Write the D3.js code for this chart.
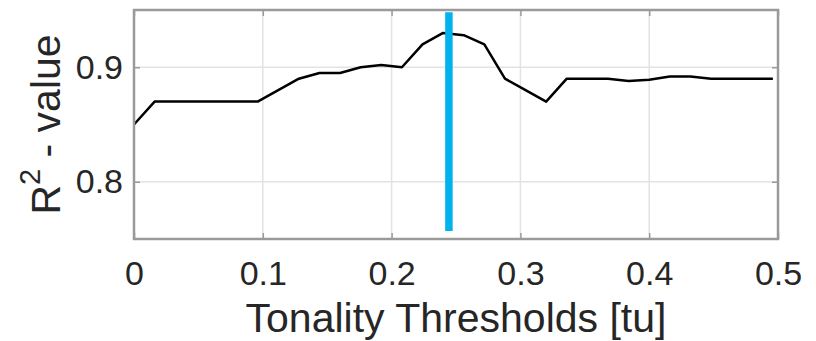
<!DOCTYPE html>
<html>
<head>
<meta charset="utf-8">
<script src="https://cdn.jsdelivr.net/npm/d3@7"></script>
<style>
  body { margin: 0; background: #fff; }
  svg { display: block; font-family: "Liberation Sans", Arial, Helvetica, sans-serif; }
  .tick text { fill: #262626; }
</style>
</head>
<body>
<svg width="816" height="341"></svg>
<script>
// thresholds (step 0.016) and r-squared
var thresholds = [0, 0.016, 0.032, 0.048, 0.064, 0.08, 0.096, 0.112, 0.128, 0.144,
  0.16, 0.176, 0.192, 0.208, 0.224, 0.24, 0.256, 0.272, 0.288, 0.304,
  0.32, 0.336, 0.352, 0.368, 0.384, 0.4, 0.416, 0.432, 0.448, 0.464,
  0.48, 0.496];
var r2 = [0.85, 0.87, 0.87, 0.87, 0.87, 0.87, 0.87, 0.88, 0.89, 0.895,
  0.895, 0.9, 0.902, 0.9, 0.92, 0.93, 0.928, 0.92, 0.89, 0.88,
  0.87, 0.89, 0.89, 0.89, 0.888, 0.889, 0.892, 0.892, 0.89, 0.89,
  0.89, 0.89];

// chosen threshold marker
var chosenX = [0.2445, 0.2445];
var chosenY = [0.757, 0.948];

var xTicks = [0, 0.1, 0.2, 0.3, 0.4, 0.5];
var yTicks = [0.8, 0.9];
var xLabel = "Tonality Thresholds [tu]";

var svg = d3.select("svg");
// plot box edges (window.top is read-only, so no plain "top")
var box = { l: 134, r: 778, t: 10, b: 239 };

var x = d3.scaleLinear().domain([0, 0.5]).range([box.l, box.r]);
var y = d3.scaleLinear().domain([0.75, 0.95]).range([box.b, box.t]);

// grid
var grid = svg.append("g").attr("class", "grid");
grid.selectAll("line.gx")
  .data(xTicks.slice(1, -1))
  .enter().append("line")
  .attr("x1", function(d) { return x(d); })
  .attr("x2", function(d) { return x(d); })
  .attr("y1", box.t).attr("y2", box.b)
  .attr("stroke", "#e3e3e3").attr("stroke-width", 1.5);
grid.selectAll("line.gy")
  .data(yTicks)
  .enter().append("line")
  .attr("x1", box.l).attr("x2", box.r)
  .attr("y1", function(d) { return y(d); })
  .attr("y2", function(d) { return y(d); })
  .attr("stroke", "#e3e3e3").attr("stroke-width", 1.5);

// data line
var pts = thresholds.map(function(t, i) { return [t, r2[i]]; });
var line = d3.line()
  .x(function(d) { return x(d[0]); })
  .y(function(d) { return y(d[1]); });

svg.append("path")
  .datum(pts)
  .attr("d", line)
  .attr("fill", "none")
  .attr("stroke", "#000")
  .attr("stroke-width", 2.5)
  .attr("stroke-linejoin", "round");

svg.append("line")
  .attr("x1", x(chosenX[0])).attr("x2", x(chosenX[1]))
  .attr("y1", y(chosenY[0])).attr("y2", y(chosenY[1]))
  .attr("stroke", "#00b2ee")
  .attr("stroke-width", 7.5);

// axes, ticks point inward
var axisColor = "#9a9a9a";
function styleAxis(g) {
  g.select(".domain").remove();
  g.selectAll(".tick line").attr("stroke", axisColor).attr("stroke-width", 1.5);
  g.selectAll(".tick text").attr("font-size", 34).attr("font-family", null);
}

svg.append("g")
  .attr("transform", translate(0, box.b))
  .call(d3.axisBottom(x).tickValues(xTicks).tickSize(-6).tickSizeOuter(0)
    .tickPadding(22).tickFormat(d3.format("")))
  .call(styleAxis);

svg.append("g")
  .attr("transform", translate(0, box.t))
  .call(d3.axisTop(x).tickValues(xTicks).tickSize(-6).tickSizeOuter(0).tickFormat(""))
  .call(styleAxis);

svg.append("g")
  .attr("transform", translate(box.l, 0))
  .call(d3.axisLeft(y).tickValues(yTicks).tickSize(-6).tickSizeOuter(0)
    .tickPadding(11).tickFormat(d3.format(".1f")))
  .call(styleAxis);

svg.append("g")
  .attr("transform", translate(box.r, 0))
  .call(d3.axisRight(y).tickValues(yTicks).tickSize(-6).tickSizeOuter(0).tickFormat(""))
  .call(styleAxis);

// box
svg.append("rect")
  .attr("x", box.l).attr("y", box.t)
  .attr("width", box.r - box.l).attr("height", box.b - box.t)
  .attr("fill", "none")
  .attr("stroke", axisColor)
  .attr("stroke-width", 2.5);

// labels
svg.append("text")
  .attr("x", (box.l + box.r) / 2)
  .attr("y", 332)
  .attr("text-anchor", "middle")
  .attr("font-size", 41)
  .attr("fill", "#262626")
  .text(xLabel);

var yl = svg.append("text")
  .attr("transform", translate(60, (box.t + box.b) / 2) + " rotate(-90)")
  .attr("text-anchor", "middle")
  .attr("font-size", 41)
  .attr("fill", "#262626");
yl.append("tspan").text("R");
yl.append("tspan").attr("font-size", 29).attr("dy", -20).text("2");
yl.append("tspan").attr("dy", 20).text(" - value");

function translate(x, y) {
  return "translate(" + String(x) + "," + String(y) + ")";
}
</script>
</body>
</html>
